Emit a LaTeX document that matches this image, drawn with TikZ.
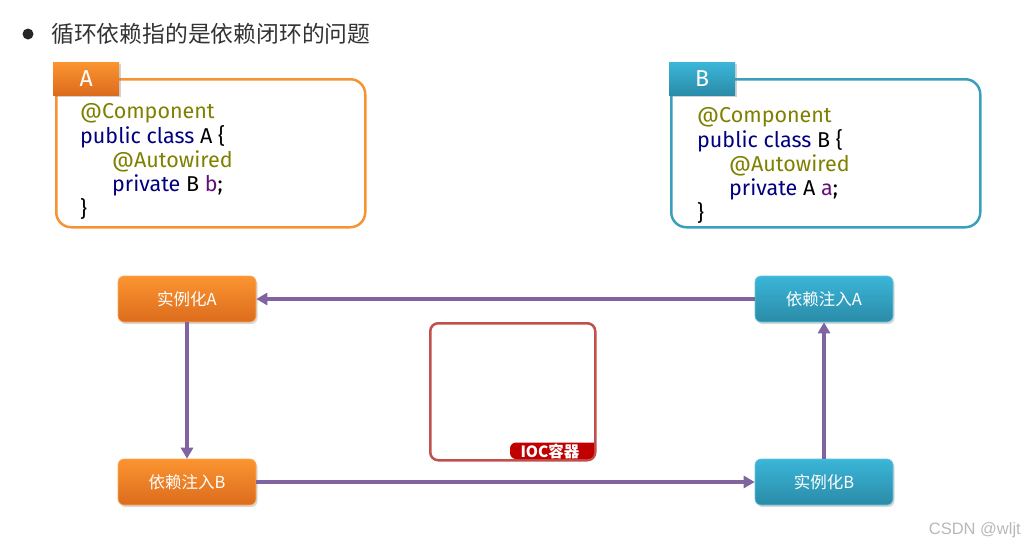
\documentclass[tikz,border=0pt]{standalone}
\usepackage{fontspec}
\setmainfont{Fira Sans}
\newfontfamily\cjk{Noto Sans CJK SC}
\newfontfamily\codefont{Fira Sans}
\newfontfamily\wmfont{Liberation Sans}
\usetikzlibrary{shadows,arrows.meta}
\definecolor{orgA}{HTML}{F79333}
\definecolor{orgTop}{HTML}{FB9430}
\definecolor{orgBot}{HTML}{DC6C1D}
\definecolor{tealB}{HTML}{3A9FBB}
\definecolor{tealTop}{HTML}{3BB6D9}
\definecolor{tealBot}{HTML}{2A8BA7}
\definecolor{arrowc}{HTML}{8064A2}
\definecolor{iocred}{HTML}{C0504D}
\definecolor{iocfill}{HTML}{C00000}
\definecolor{anno}{HTML}{808000}
\definecolor{kw}{HTML}{000080}
\definecolor{fld}{HTML}{660E7A}
\definecolor{titlec}{HTML}{333333}
\begin{document}
\begin{tikzpicture}[x=1pt,y=-1pt,
  codebox/.style={draw,line width=2.5pt,rounded corners=15pt,fill=white},
  tabbox/.style={minimum width=66pt,minimum height=33pt,inner sep=0pt,text=white,
     font=\fontsize{23}{24}\selectfont,drop shadow={shadow xshift=1.5pt,shadow yshift=-1.5pt,opacity=0.35}},
  procbox/.style={rounded corners=6pt,minimum width=138pt,minimum height=46pt,inner sep=0pt,
     text=white,font=\cjk\fontsize{16.5}{17}\selectfont,
     drop shadow={shadow xshift=1.5pt,shadow yshift=-2pt,opacity=0.3}},
  orangeproc/.style={procbox,top color=orgTop,bottom color=orgBot,draw=orgTop!80!white,line width=0.6pt},
  tealproc/.style={procbox,top color=tealTop,bottom color=tealBot,draw=tealTop!80!white,line width=0.6pt},
  codeline/.style={anchor=west,inner sep=0pt,font=\codefont\fontsize{21.5}{22}\selectfont},
  flow/.style={draw=arrowc,line width=3.5pt,-{Triangle[length=11pt,width=12pt]}}
]
\useasboundingbox (0,0) rectangle (1033,549);
% title
\fill[black!85] (28,34) circle (5.5pt);
\node[anchor=west,inner sep=0pt,text=titlec,font=\cjk\fontsize{22.8}{24}\selectfont] (title) at (51,34) {循环依赖指的是依赖闭环的问题};
% box A
\node[codebox,draw=orgA,minimum width=309pt,minimum height=148pt,anchor=north west] (boxA) at (55,78) {};
\node[tabbox,top color=orgTop,bottom color=orgBot,anchor=north west] (tabA) at (53,62) {A};
\node[codeline,text=anno] (a1) at (80,113) {@Component};
\node[codeline] (a2) at (80,137) {\textcolor{kw}{public class} A \{};
\node[codeline,text=anno] (a3) at (112,161) {@Autowired};
\node[codeline] (a4) at (112,185) {\textcolor{kw}{private} B \textcolor{fld}{b};};
\node[codeline] (a5) at (80,209) {\}};
% box B
\node[codebox,draw=tealB,minimum width=309pt,minimum height=148pt,anchor=north west] (boxB) at (670,78) {};
\node[tabbox,top color=tealTop,bottom color=tealBot,anchor=north west] (tabB) at (669,62) {B};
\node[codeline,text=anno] (b1) at (697,117) {@Component};
\node[codeline] (b2) at (697,141) {\textcolor{kw}{public class} B \{};
\node[codeline,text=anno] (b3) at (729,165) {@Autowired};
\node[codeline] (b4) at (729,189) {\textcolor{kw}{private} A \textcolor{fld}{a};};
\node[codeline] (b5) at (697,213) {\}};
% process boxes
\node[orangeproc] (instA) at (187,299) {实例化A};
\node[orangeproc] (injB) at (187,482) {依赖注入B};
\node[tealproc] (injA) at (824,299) {依赖注入A};
\node[tealproc] (instB) at (824,482) {实例化B};
% IOC container
\node[draw=iocred,line width=2.5pt,rounded corners=8pt,minimum width=165pt,minimum height=137pt,anchor=north west] (ioc) at (429,322) {};
\fill[iocfill] (510,442.5) -- (594,442.5) -- (594,452) [rounded corners=6pt] -- (594,459) -- (510,459) -- cycle;
\node[text=white,font=\cjk\bfseries\fontsize{15.5}{16}\selectfont,inner sep=0pt] (ioclabel) at (550,451) {IOC容器};
% arrows
\draw[flow] (injA.west) -- (instA.east);
\draw[flow] (instA.south) -- (injB.north);
\draw[flow] (injB.east) -- (instB.west);
\draw[flow] (instB.north) -- (injA.south);
% watermark
\node[anchor=east,inner sep=0pt,text=black!28,font=\wmfont\fontsize{16.5}{17}\selectfont] (wm) at (1021,530) {CSDN @wljt};
\end{tikzpicture}
\end{document}
